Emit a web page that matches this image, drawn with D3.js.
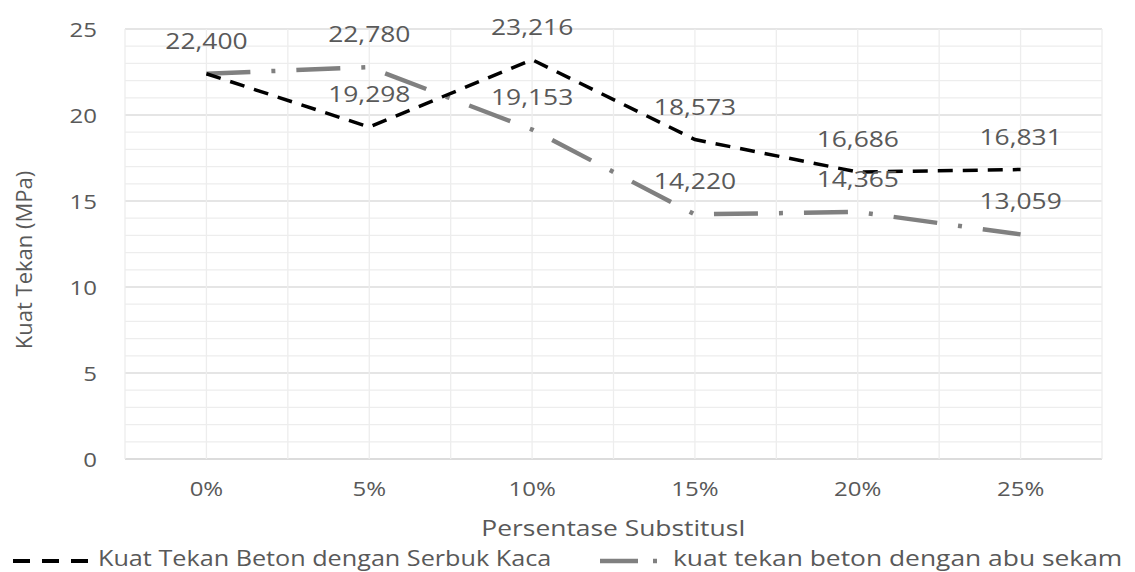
<!DOCTYPE html>
<html>
<head>
<meta charset="utf-8">
<script src="https://cdn.jsdelivr.net/npm/d3@7"></script>
<style>
  body { margin: 0; background: #fff; }
  svg text { font-family: "Open Sans", sans-serif; fill: #595959; }
</style>
</head>
<body>
<svg id="chart" width="1135" height="572"></svg>
<script>
// data
var categories = ["0%", "5%", "10%", "15%", "20%", "25%"];
var serbukKaca = [22.400, 19.298, 23.216, 18.573, 16.686, 16.831];
var abuSekam = [22.400, 22.780, 19.153, 14.220, 14.365, 13.059];
var yTicks = [0, 5, 10, 15, 20, 25];
var seriesNames = ["Kuat Tekan Beton dengan Serbuk Kaca", "kuat tekan beton dengan abu sekam"];

var svg = d3.select("#chart");
var stretch = 1.2; // text in the picture is a bit wide

var pLeft = 125, pRight = 1102, pTop = 29, pBottom = 459;

var x = d3.scaleBand().domain(categories).range([pLeft, pRight]).padding(0);
var y = d3.scaleLinear().domain([0, 25]).range([pBottom, pTop]);
var cx = function(c) { return x(c) + x.bandwidth() / 2; };

function label(g, txt, px, py, anchor, size) {
  return g.append("text")
    .attr("transform", "translate(" + px + "," + py + ") scale(" + stretch + ",1)")
    .attr("text-anchor", anchor)
    .style("font-size", size + "px")
    .text(txt);
}

// gridlines
var grid = svg.append("g");
d3.range(0, 26, 1).forEach(function(v) {
  grid.append("line")
    .attr("x1", pLeft).attr("x2", pRight)
    .attr("y1", y(v)).attr("y2", y(v))
    .attr("stroke", v == 0 ? "#d0d0d0" : (v % 5 == 0 ? "#dcdcdc" : "#ededed"))
    .attr("stroke-width", 1.3);
});
var vx = [];
categories.forEach(function(c) { vx.push(x(c)); vx.push(cx(c)); });
vx.push(pRight);
vx.forEach(function(px) {
  grid.append("line")
    .attr("x1", px).attr("x2", px)
    .attr("y1", pTop).attr("y2", pBottom)
    .attr("stroke", "#ededed")
    .attr("stroke-width", 1.3);
});

// y tick labels
yTicks.forEach(function(v) {
  label(svg, v, 97, y(v) + 7.5, "end", 20);
});

// x tick labels
categories.forEach(function(c) {
  label(svg, c, cx(c), 496, "middle", 20);
});

// axis titles
label(svg, "Persentase SubstitusI", (pLeft + pRight) / 2, 536, "middle", 22);
svg.append("text")
  .attr("transform", "translate(32,260) rotate(-90)")
  .attr("text-anchor", "middle")
  .style("font-size", "22px")
  .text("Kuat Tekan (MPa)");

// lines
var line = d3.line()
  .x(function(d, i) { return cx(categories[i]); })
  .y(function(d) { return y(d); });

svg.append("path")
  .datum(abuSekam)
  .attr("d", line)
  .attr("fill", "none")
  .attr("stroke", "#808080")
  .attr("stroke-width", 4.5)
  .attr("stroke-dasharray", "44,21,4,21");

svg.append("path")
  .datum(serbukKaca)
  .attr("d", line)
  .attr("fill", "none")
  .attr("stroke", "#000")
  .attr("stroke-width", 3.5)
  .attr("stroke-dasharray", "15,10");

// data labels
var lbl = svg.append("g");
serbukKaca.forEach(function(v, i) {
  label(lbl, d3.format(".3f")(v).replace(".", ","), cx(categories[i]), y(v) - 25, "middle", 22);
});
abuSekam.forEach(function(v, i) {
  if (i == 0) return; // same point as the first series
  label(lbl, d3.format(".3f")(v).replace(".", ","), cx(categories[i]), y(v) - 25, "middle", 22);
});

// legend
var leg = svg.append("g");
leg.append("line")
  .attr("x1", 13).attr("x2", 88).attr("y1", 561).attr("y2", 561)
  .attr("stroke", "#000").attr("stroke-width", 4)
  .attr("stroke-dasharray", "17,12");
label(leg, seriesNames[0], 98, 566, "start", 21);
leg.append("line")
  .attr("x1", 600).attr("x2", 660).attr("y1", 561).attr("y2", 561)
  .attr("stroke", "#808080").attr("stroke-width", 4.5)
  .attr("stroke-dasharray", "38,15,4,30");
label(leg, seriesNames[1], 673, 566, "start", 22);
</script>
</body>
</html>
